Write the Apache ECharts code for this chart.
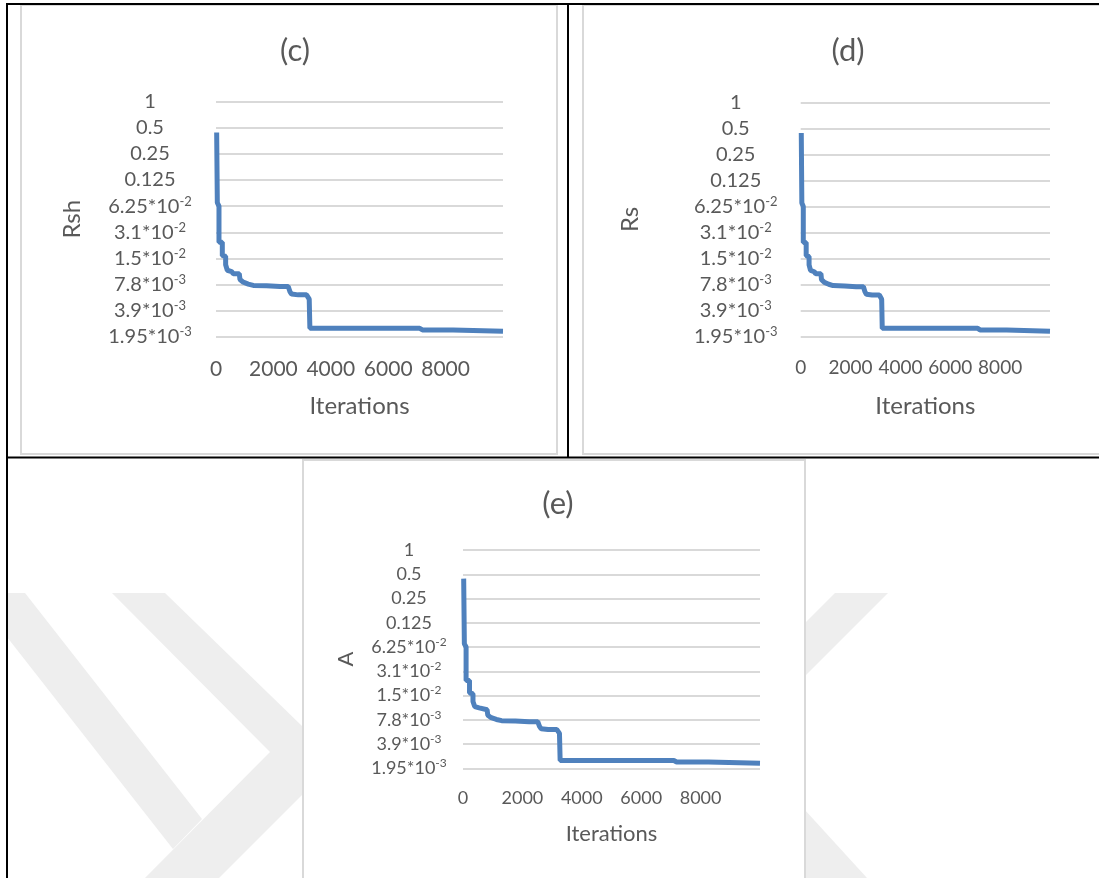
<!DOCTYPE html>
<html>
<head>
<meta charset="utf-8">
<script src="https://cdn.jsdelivr.net/npm/echarts@6/dist/echarts.min.js"></script>
<style>
html,body{margin:0;padding:0;background:#fff;}
#chart{width:1099px;height:878px;}
</style>
</head>
<body>
<div id="chart"></div>
<script>
// ---- data (same convergence curve in all three panels) ----
const iterations = [23, 46, 104, 104, 220, 220, 336, 336, 394, 545, 603, 812, 835, 951, 1125, 1299, 1763, 2227, 2517, 2575, 2633, 2865, 3155, 3248, 3271, 7100, 7193, 8260, 8318, 10000];
const bestValues = [0.441, 0.0684, 0.0625, 0.024, 0.024, 0.0168, 0.0165, 0.0132, 0.0114, 0.011, 0.0104, 0.0104, 0.0089, 0.0083, 0.00789, 0.00762, 0.00755, 0.00739, 0.00739, 0.00648, 0.00605, 0.00593, 0.00593, 0.0053, 0.00244, 0.00244, 0.00234, 0.00234, 0.00226, 0.00226];
const tickMantissa = ['1', '0.5', '0.25', '0.125', '6.25*10', '3.1*10', '1.5*10', '7.8*10', '3.9*10', '1.95*10'];
const tickExponent = ['', '', '', '', '-2', '-2', '-2', '-3', '-3', '-3'];
const panelTitles = ['(c)', '(d)', '(e)'];
const yNames = ['Rsh', 'Rs', 'A'];
const xName = 'Iterations';

const FONT = 'Lato';
const TXT = '#595959';
const LINE = '#4f81bd';
const GRIDC = '#d9d9d9';
const WM = '#eeeeee';

const panels = [
  {grid: {left: 216, top: 101.7, width: 287, height: 235}, title: {x: 290, y: 50}, fs: 20, xfs: 21, sup: 13, ym: 66, yGap: 132, xm: 22, xGap: 58, nfs: 24},
  {grid: {left: 800.7, top: 102.3, width: 249.3, height: 234.4}, title: {x: 843, y: 50}, fs: 20, xfs: 19, sup: 13, ym: 65, yGap: 158, xm: 22, xGap: 58, nfs: 24},
  {grid: {left: 463, top: 550, width: 297, height: 218.3}, title: {x: 553, y: 503}, fs: 18, xfs: 18, sup: 12, ym: 54, yGap: 106, xm: 21, xGap: 55, nfs: 22}
];

function yLabel(v) {
  const k = Math.round(-Math.log2(v));
  if (k < 0 || k >= tickMantissa.length) return '';
  const e = tickExponent[k];
  return e ? '{m|' + tickMantissa[k] + '}{s|' + e + '}' : '{m|' + tickMantissa[k] + '}';
}

const chart = echarts.init(document.getElementById('chart'), null, {renderer: 'canvas'});

const option = {
  backgroundColor: '#ffffff',
  animation: false,
  title: panels.map((p, i) => ({
    text: panelTitles[i],
    left: p.title.x,
    top: p.title.y - 20,
    textAlign: 'center',
    textStyle: {fontFamily: FONT, fontSize: 31, fontWeight: 'normal', color: TXT}
  })),
  grid: panels.map(p => Object.assign({containLabel: false}, p.grid)),
  xAxis: panels.map((p, i) => ({
    type: 'value', gridIndex: i, min: 0, max: 10000, interval: 2000,
    name: xName, nameLocation: 'middle', nameGap: p.xGap, nameMoveOverlap: false,
    nameTextStyle: {fontFamily: FONT, fontSize: p.nfs, color: TXT},
    axisLine: {show: false}, axisTick: {show: false}, splitLine: {show: false},
    axisLabel: {fontFamily: FONT, fontSize: p.xfs, color: TXT, margin: p.xm, hideOverlap: false,
      formatter: v => (v >= 10000 ? '' : String(v))}
  })),
  yAxis: panels.map((p, i) => ({
    type: 'log', logBase: 2, gridIndex: i, min: Math.pow(2, -9), max: 1, splitNumber: 9,
    name: yNames[i], nameLocation: 'middle', nameGap: p.yGap, nameRotate: 90, nameMoveOverlap: false,
    nameTextStyle: {fontFamily: FONT, fontSize: p.nfs, color: TXT},
    axisLine: {show: false}, axisTick: {show: false},
    splitLine: {show: true, lineStyle: {color: GRIDC, width: 2}},
    axisLabel: {
      margin: p.ym, align: 'center', formatter: yLabel,
      rich: {
        m: {fontFamily: FONT, fontSize: p.fs, color: TXT, lineHeight: 22},
        s: {fontFamily: FONT, fontSize: p.sup, color: TXT, lineHeight: 10, verticalAlign: 'top'}
      }
    }
  })),
  series: panels.map((p, i) => ({
    type: 'line', xAxisIndex: i, yAxisIndex: i, showSymbol: false, symbol: 'none',
    data: iterations.map((x, j) => [x, bestValues[j]]),
    lineStyle: {color: LINE, width: 5},
    z: 5
  })),
  graphic: [
    // faint watermark behind the lower panel
    {type: 'polygon', z: -20, silent: true, shape: {points: [[7, 593], [25, 593], [202, 819], [173, 849], [7, 637]]}, style: {fill: WM}},
    {type: 'polygon', z: -20, silent: true, shape: {points: [[112, 593], [165, 593], [337, 760], [219, 878], [145, 878], [270, 752]]}, style: {fill: WM}},
    {type: 'polygon', z: -20, silent: true, shape: {points: [[835, 593], [888, 593], [741, 740], [867, 878], [800, 878], [684, 744]]}, style: {fill: WM}},
    // panel frames
    {type: 'rect', z: -10, silent: true, shape: {x: 21, y: 5, width: 536, height: 449}, style: {fill: '#fff', stroke: GRIDC, lineWidth: 2}},
    {type: 'rect', z: -10, silent: true, shape: {x: 583, y: 5, width: 530, height: 449}, style: {fill: '#fff', stroke: GRIDC, lineWidth: 2}},
    {type: 'rect', z: -10, silent: true, shape: {x: 303, y: 460, width: 502, height: 440}, style: {fill: '#fff', stroke: GRIDC, lineWidth: 2}},
    // black table lines
    {type: 'line', z: -5, silent: true, shape: {x1: 6, y1: 4, x2: 1099, y2: 4}, style: {stroke: '#000', lineWidth: 2}},
    {type: 'line', z: -5, silent: true, shape: {x1: 7, y1: 3, x2: 7, y2: 878}, style: {stroke: '#000', lineWidth: 2}},
    {type: 'line', z: -5, silent: true, shape: {x1: 568, y1: 3, x2: 568, y2: 458}, style: {stroke: '#000', lineWidth: 2}},
    {type: 'line', z: -5, silent: true, shape: {x1: 6, y1: 457.5, x2: 1099, y2: 457.5}, style: {stroke: '#000', lineWidth: 2}}
  ]
};
chart.setOption(option);
</script>
</body>
</html>
